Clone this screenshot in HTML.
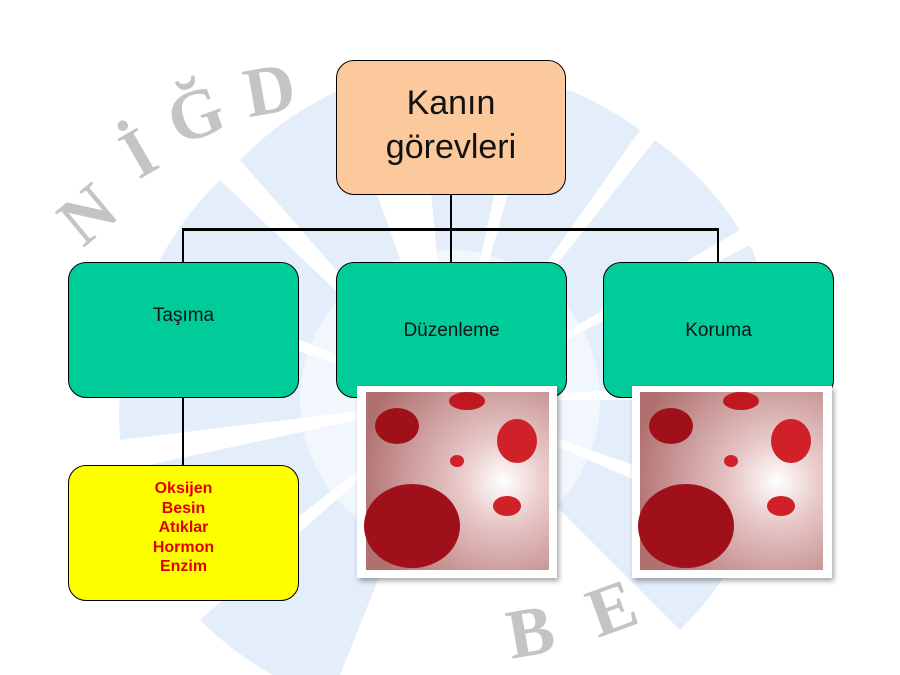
<!DOCTYPE html>
<html><head><meta charset="utf-8"><style>
body{margin:0;width:900px;height:675px;background:#fff;overflow:hidden;position:relative;font-family:"Liberation Sans",sans-serif}
.b{position:absolute;border:1px solid #000;border-radius:18px;box-sizing:border-box;text-align:center}
.g{background:#00cc99;font-size:19px;color:#111}
.ln{position:absolute;background:#000}
.pic{position:absolute;background:#fff;box-shadow:2px 3px 5px rgba(0,0,0,.35)}
</style></head><body>
<svg width="900" height="675" style="position:absolute;left:0;top:0">
<g fill="#e3eefa">
<path d="M450 400 L420 70 A330 330 0 0 1 520 75 Z"/>
<path d="M450 400 L540 80 A330 330 0 0 1 640 130 Z"/>
<path d="M450 400 L655 140 A330 330 0 0 1 740 230 Z"/>
<path d="M450 400 L750 245 A330 330 0 0 1 780 380 Z"/>
<path d="M450 400 L780 400 A330 330 0 0 1 760 510 Z"/>
<path d="M450 400 L750 530 A330 330 0 0 1 680 630 Z"/>
<path d="M450 400 L330 700 A330 330 0 0 1 200 620 Z"/>
<path d="M450 400 L190 600 A330 330 0 0 1 125 470 Z"/>
<path d="M450 400 L120 440 A330 330 0 0 1 140 300 Z"/>
<path d="M450 400 L150 280 A330 330 0 0 1 220 180 Z"/>
<path d="M450 400 L240 160 A330 330 0 0 1 340 90 Z"/>
</g>
<circle cx="450" cy="400" r="150" fill="#fff" opacity="0.55"/>
<g fill="#c4c4c4" font-family="Liberation Serif,serif" font-weight="bold" font-size="70">
<text x="60" y="235" transform="rotate(-40 90 210)">N</text>
<text x="125" y="170" transform="rotate(-30 150 150)">İ</text>
<text x="170" y="140" transform="rotate(-20 190 120)">Ğ</text>
<text x="245" y="115" transform="rotate(-10 260 95)">D</text>
<text x="505" y="655" transform="rotate(-10 530 620)">B</text>
<text x="585" y="635" transform="rotate(-20 600 600)">E</text>
</g>
</svg>
<div class="b" style="left:336px;top:60px;width:230px;height:135px;background:#fbc99c;font-size:34px;line-height:44px;padding-top:20px;color:#111">Kanın<br>görevleri</div>
<div class="ln" style="left:450px;top:195px;width:2px;height:67px"></div>
<div class="ln" style="left:182px;top:228px;width:537px;height:3px"></div>
<div class="ln" style="left:182px;top:228px;width:2px;height:34px"></div>
<div class="ln" style="left:717px;top:228px;width:2px;height:34px"></div>
<div class="ln" style="left:182px;top:398px;width:2px;height:67px"></div>
<div class="b g" style="left:68px;top:262px;width:231px;height:136px;padding-top:42px">Taşıma</div>
<div class="b g" style="left:336px;top:262px;width:231px;height:136px;padding-top:57px">Düzenleme</div>
<div class="b g" style="left:603px;top:262px;width:231px;height:136px;padding-top:57px">Koruma</div>
<div class="b" style="left:68px;top:465px;width:231px;height:136px;background:#ffff00;color:#e00000;font-weight:bold;font-size:16px;line-height:19.5px;padding-top:13px">Oksijen<br>Besin<br>Atıklar<br>Hormon<br>Enzim</div>
<div class="pic" style="left:357px;top:386px;width:200px;height:192px">
<svg x="0" width="200" height="192"><defs><radialGradient id="r" cx="0.75" cy="0.5" r="0.8"><stop offset="0" stop-color="#fff"/><stop offset=".3" stop-color="#e8c8c8"/><stop offset="1" stop-color="#b07070"/></radialGradient></defs>
<rect x="9" y="6" width="183" height="178" fill="url(#r)"/>
<ellipse cx="55" cy="140" rx="48" ry="42" fill="#a0101a"/><ellipse cx="40" cy="40" rx="22" ry="18" fill="#a01018"/><ellipse cx="160" cy="55" rx="20" ry="22" fill="#d02028"/><ellipse cx="110" cy="15" rx="18" ry="9" fill="#c01820"/><ellipse cx="150" cy="120" rx="14" ry="10" fill="#d02028"/><ellipse cx="100" cy="75" rx="7" ry="6" fill="#d02028"/></svg></div>
<div class="pic" style="left:632px;top:386px;width:200px;height:192px">
<svg width="200" height="192"><rect x="8" y="6" width="183" height="178" fill="url(#r)"/>
<ellipse cx="54" cy="140" rx="48" ry="42" fill="#a0101a"/><ellipse cx="39" cy="40" rx="22" ry="18" fill="#a01018"/><ellipse cx="159" cy="55" rx="20" ry="22" fill="#d02028"/><ellipse cx="109" cy="15" rx="18" ry="9" fill="#c01820"/><ellipse cx="149" cy="120" rx="14" ry="10" fill="#d02028"/><ellipse cx="99" cy="75" rx="7" ry="6" fill="#d02028"/></svg></div>
</body></html>
